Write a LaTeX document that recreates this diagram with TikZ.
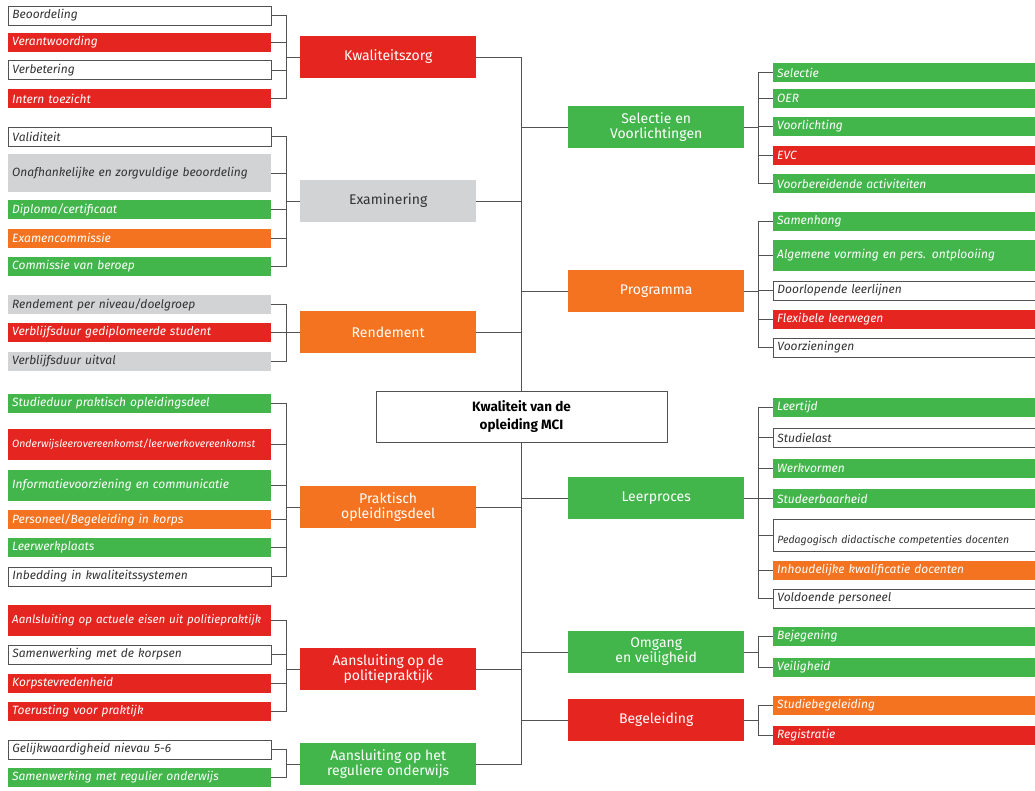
\documentclass[tikz,border=0pt]{standalone}
\usepackage{fontspec}
\setmainfont{Fira Sans}
\usepackage{tikz}
\usepackage{xcolor}
\usetikzlibrary{calc,backgrounds}
\definecolor{kred}{HTML}{E52520}
\definecolor{kgreen}{HTML}{42B64B}
\definecolor{korange}{HTML}{F37321}
\definecolor{kgray}{HTML}{D1D3D4}
\definecolor{kdark}{HTML}{333333}
\colorlet{kline}{kdark!85!white}
\newcommand{\leaffont}{\fontsize{12}{14}\selectfont\itshape}% sub-items
\newcommand{\smallleaf}{\fontsize{10.5}{12}\selectfont\itshape}
\newcommand{\topicfont}{\fontsize{14}{15}\selectfont}
\tikzstyle{leaf} = [
    rectangle,
    anchor=west,
    inner xsep=4pt,
    inner ysep=0pt,
    minimum height=19pt,
    text width=255pt,
    align=left,
    font=\leaffont,
    text=white
    ]
\tikzstyle{rleaf} = [leaf, text width=262pt]
\tikzstyle{plain} = [draw=kline, line width=0.9pt, fill=white, text=kdark]
\tikzstyle{grey} = [fill=kgray, text=kdark]
\tikzstyle{topic} = [
    rectangle,
    anchor=west,
    minimum width=176pt,
    minimum height=42pt,
    align=center,
    font=\topicfont,
    text=white
    ]
\tikzstyle{conn} = [draw=kline, line width=0.9pt]

\begin{document}
\begin{tikzpicture}[x=1pt, y=-1pt]
\path[use as bounding box, clip] (0,0) rectangle (1035,790);

% left: sub-items
\node[leaf, plain] (kz1) at (8,15.5) {Beoordeling};
\node[leaf, fill=kred] (kz2) at (8,42.5) {Verantwoording};
\node[leaf, plain] (kz3) at (8,70) {Verbetering};
\node[leaf, fill=kred] (kz4) at (8,98.5) {Intern toezicht};

\node[leaf, plain] (ex1) at (8,136.5) {Validiteit};
\node[leaf, grey, minimum height=38pt] (ex2) at (8,173) {Onafhankelijke en zorgvuldige beoordeling};
\node[leaf, fill=kgreen] (ex3) at (8,209.5) {Diploma/certificaat};
\node[leaf, fill=korange] (ex4) at (8,238) {Examencommissie};
\node[leaf, fill=kgreen] (ex5) at (8,266.5) {Commissie van beroep};

\node[leaf, grey] (re1) at (8,304.5) {Rendement per niveau/doelgroep};
\node[leaf, fill=kred] (re2) at (8,332.5) {Verblijfsduur gediplomeerde student};
\node[leaf, grey] (re3) at (8,361.5) {Verblijfsduur uitval};

\node[leaf, fill=kgreen] (pr1) at (8,403.5) {Studieduur praktisch opleidingsdeel};
\node[leaf, fill=kred, minimum height=31pt, font=\smallleaf] (pr2) at (8,444.5) {Onderwijsleerovereenkomst/leerwerkovereenkomst};
\node[leaf, fill=kgreen, minimum height=31pt] (pr3) at (8,485.5) {Informatievoorziening en communicatie};
\node[leaf, fill=korange] (pr4) at (8,519.5) {Personeel/Begeleiding in korps};
\node[leaf, fill=kgreen] (pr5) at (8,547.5) {Leerwerkplaats};
\node[leaf, plain] (pr6) at (8,576.5) {Inbedding in kwaliteitssystemen};

\node[leaf, fill=kred, minimum height=31pt, font=\fontsize{11.6}{14}\selectfont\itshape] (ap1) at (8,620.5) {\mbox{Aanlsluiting op actuele eisen uit politiepraktijk}};
\node[leaf, plain] (ap2) at (8,654.5) {Samenwerking met de korpsen};
\node[leaf, fill=kred] (ap3) at (8,683.5) {Korpstevredenheid};
\node[leaf, fill=kred] (ap4) at (8,711.5) {Toerusting voor praktijk};

\node[leaf, plain] (ar1) at (8,749.5) {Gelijkwaardigheid nievau 5-6};
\node[leaf, fill=kgreen] (ar2) at (8,777.5) {Samenwerking met regulier onderwijs};

% left: topics
\node[topic, fill=kred] (kz) at (300,57) {Kwaliteitszorg};
\node[topic, grey] (ex) at (300,201) {Examinering};
\node[topic, fill=korange] (re) at (300,332) {Rendement};
\node[topic, fill=korange] (pr) at (300,507) {Praktisch\\opleidingsdeel};
\node[topic, fill=kred] (ap) at (300,669) {Aansluiting op de\\politiepraktijk};
\node[topic, fill=kgreen] (ar) at (300,764) {Aansluiting op het\\reguliere onderwijs};

% right: topics
\node[topic, fill=kgreen] (sv) at (568,127) {Selectie en\\Voorlichtingen};
\node[topic, fill=korange] (pg) at (568,291) {Programma};
\node[topic, fill=kgreen] (lp) at (568,498) {Leerproces};
\node[topic, fill=kgreen] (ov) at (568,652) {Omgang\\en veiligheid};
\node[topic, fill=kred] (bg) at (568,720) {Begeleiding};

% right: sub-items
\node[rleaf, fill=kgreen] (sv1) at (773,72.5) {Selectie};
\node[rleaf, fill=kgreen] (sv2) at (773,98.5) {OER};
\node[rleaf, fill=kgreen] (sv3) at (773,126.5) {Voorlichting};
\node[rleaf, fill=kred] (sv4) at (773,155.5) {EVC};
\node[rleaf, fill=kgreen] (sv5) at (773,183.5) {Voorbereidende activiteiten};

\node[rleaf, fill=kgreen] (pg1) at (773,221.5) {Samenhang};
\node[rleaf, fill=kgreen, minimum height=31pt] (pg2) at (773,255.5) {Algemene vorming en pers. ontplooiing};
\node[rleaf, plain] (pg3) at (773,290.5) {Doorlopende leerlijnen};
\node[rleaf, fill=kred] (pg4) at (773,319.5) {Flexibele leerwegen};
\node[rleaf, plain] (pg5) at (773,347.5) {Voorzieningen};

\node[rleaf, fill=kgreen] (lp1) at (773,407.5) {Leertijd};
\node[rleaf, plain] (lp2) at (773,437.5) {Studielast};
\node[rleaf, fill=kgreen] (lp3) at (773,468.5) {Werkvormen};
\node[rleaf, fill=kgreen] (lp4) at (773,498.5) {Studeerbaarheid};
\node[rleaf, plain, minimum height=32pt, text height=20pt, text depth=3pt, font=\smallleaf] (lp5) at (773,535) {Pedagogisch didactische competenties docenten};
\node[rleaf, fill=korange] (lp6) at (773,570.5) {Inhoudelijke kwalificatie docenten};
\node[rleaf, plain] (lp7) at (773,598.5) {Voldoende personeel};

\node[rleaf, fill=kgreen] (ov1) at (773,636.5) {Bejegening};
\node[rleaf, fill=kgreen] (ov2) at (773,667.5) {Veiligheid};

\node[rleaf, fill=korange] (bg1) at (773,705.5) {Studiebegeleiding};
\node[rleaf, fill=kred] (bg2) at (773,735.5) {Registratie};

% centre
\node[draw=kline, line width=0.9pt, fill=white, minimum width=291pt, minimum height=51pt,
      align=center, text=black, font=\fontsize{13.5}{18}\selectfont\bfseries] (cb) at (521.5,416.5)
      {Kwaliteit van de\\opleiding MCI};

\begin{scope}[on background layer]
% spine
\draw[conn] (kz.east -| cb.north) -- (ar.east -| cb.north);
\draw[conn] (kz.east) -- (kz.east -| cb.north) (ex.east) -- (ex.east -| cb.north)
    (re.east) -- (re.east -| cb.north) (pr.east) -- (pr.east -| cb.north)
    (ap.east) -- (ap.east -| cb.north) (ar.east) -- (ar.east -| cb.north);
\draw[conn] (sv.west) -- (sv.west -| cb.north) (pg.west) -- (pg.west -| cb.north)
    (lp.west) -- (lp.west -| cb.north) (ov.west) -- (ov.west -| cb.north)
    (bg.west) -- (bg.west -| cb.north);

% brackets left
\draw[conn] (kz.west) -- ++(-14,0) coordinate (kzb);
\draw[conn] (kz1.east) -| (kzb) (kz2.east) -| (kzb) (kz3.east) -| (kzb) (kz4.east) -| (kzb);
\draw[conn] (ex.west) -- ++(-14,0) coordinate (exb);
\draw[conn] (ex1.east) -| (exb) (ex2.east) -| (exb) (ex3.east) -| (exb) (ex4.east) -| (exb) (ex5.east) -| (exb);
\draw[conn] (re.west) -- ++(-14,0) coordinate (reb);
\draw[conn] (re1.east) -| (reb) (re2.east) -| (reb) (re3.east) -| (reb);
\draw[conn] (pr.west) -- ++(-14,0) coordinate (prb);
\draw[conn] (pr1.east) -| (prb) (pr2.east) -| (prb) (pr3.east) -| (prb) (pr4.east) -| (prb) (pr5.east) -| (prb) (pr6.east) -| (prb);
\draw[conn] (ap.west) -- ++(-14,0) coordinate (apb);
\draw[conn] (ap1.east) -| (apb) (ap2.east) -| (apb) (ap3.east) -| (apb) (ap4.east) -| (apb);
\draw[conn] (ar.west) -- ++(-14,0) coordinate (arb);
\draw[conn] (ar1.east) -| (arb) (ar2.east) -| (arb);

% brackets right
\draw[conn] (sv.east) -- ++(14,0) coordinate (svb);
\draw[conn] (sv1.west) -| (svb) (sv2.west) -| (svb) (sv3.west) -| (svb) (sv4.west) -| (svb) (sv5.west) -| (svb);
\draw[conn] (pg.east) -- ++(14,0) coordinate (pgb);
\draw[conn] (pg1.west) -| (pgb) (pg2.west) -| (pgb) (pg3.west) -| (pgb) (pg4.west) -| (pgb) (pg5.west) -| (pgb);
\draw[conn] (lp.east) -- ++(14,0) coordinate (lpb);
\draw[conn] (lp1.west) -| (lpb) (lp2.west) -| (lpb) (lp3.west) -| (lpb) (lp4.west) -| (lpb) (lp5.west) -| (lpb) (lp6.west) -| (lpb) (lp7.west) -| (lpb);
\draw[conn] (ov.east) -- ++(14,0) coordinate (ovb);
\draw[conn] (ov1.west) -| (ovb) (ov2.west) -| (ovb);
\draw[conn] (bg.east) -- ++(14,0) coordinate (bgb);
\draw[conn] (bg1.west) -| (bgb) (bg2.west) -| (bgb);
\end{scope}
\end{tikzpicture}
\end{document}
